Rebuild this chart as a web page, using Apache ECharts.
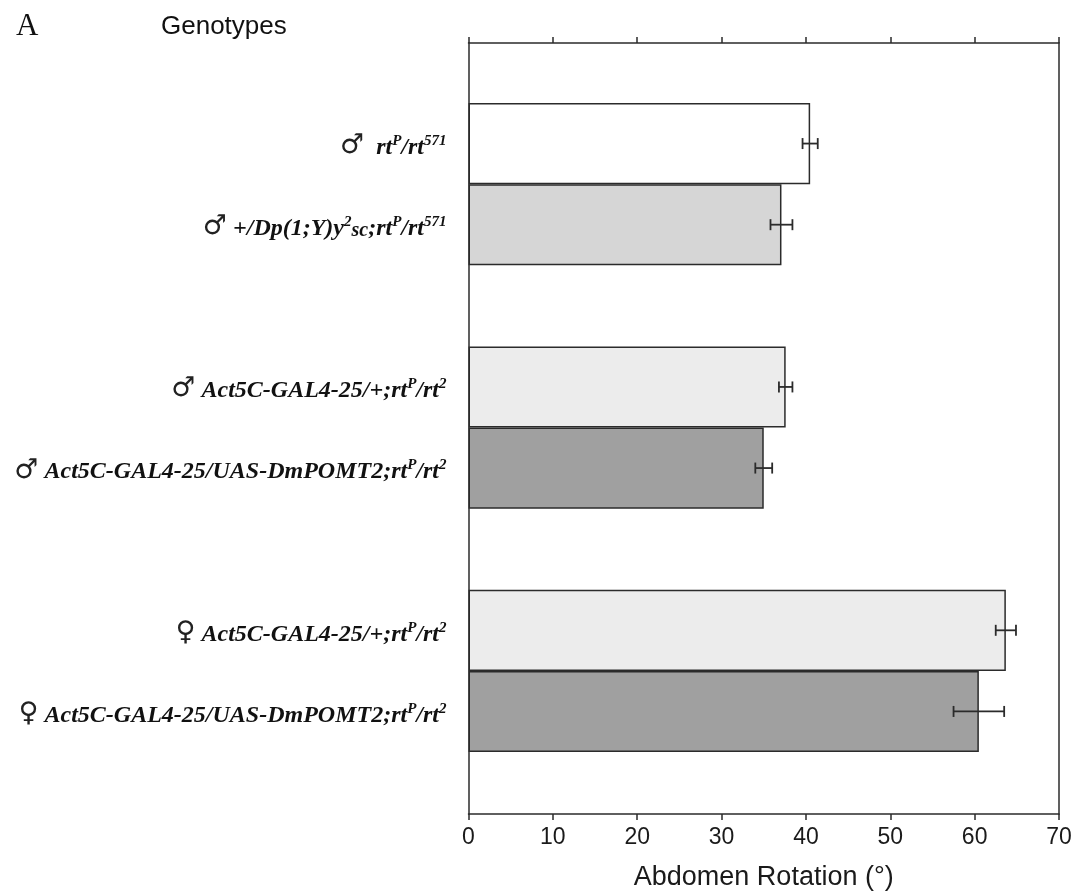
<!DOCTYPE html>
<html>
<head>
<meta charset="utf-8">
<script src="https://cdn.jsdelivr.net/npm/echarts@6/dist/echarts.min.js"></script>
<style>
  html, body { margin: 0; padding: 0; background: #fff; }
  #chart { width: 1077px; height: 892px; }
</style>
</head>
<body>
<div id="chart"></div>
<script>
// Genotype labels (rich-text markup: sex symbol, bold-italic genotype, superscript alleles)
const genotypes = [
  '{sym|♂}{g|  rt}{sup|P}{g|/rt}{sup|571}',
  '{sym|♂}{g| +/Dp(1;Y)y}{sup|2}{sc|sc}{g|;rt}{sup|P}{g|/rt}{sup|571}',
  '{sym|♂}{g| Act5C-GAL4-25/+;rt}{sup|P}{g|/rt}{sup|2}',
  '{sym|♂}{g| Act5C-GAL4-25/UAS-DmPOMT2;rt}{sup|P}{g|/rt}{sup|2}',
  '{sym|♀}{g| Act5C-GAL4-25/+;rt}{sup|P}{g|/rt}{sup|2}',
  '{sym|♀}{g| Act5C-GAL4-25/UAS-DmPOMT2;rt}{sup|P}{g|/rt}{sup|2}'
];
// Mean abdomen rotation (degrees) and error (±)
const rotation = [40.5, 37.1, 37.6, 35.0, 63.7, 60.5];
const rotationErr = [0.9, 1.3, 0.8, 1.0, 1.2, 3.0];
// Bars are shown in pairs; an empty row separates the pairs
const pairSize = 2;
const xTicks = [0, 10, 20, 30, 40, 50, 60, 70];

const fills = ['#ffffff', '#d6d6d6', '#ececec', '#a0a0a0', '#ececec', '#a0a0a0'];
const ink = '#2b2b2b';

// Build row slots (with blank separator rows between pairs)
const rowLabels = [];
const rowBars = [];
const rowErr = [];
genotypes.forEach((g, i) => {
  if (i > 0 && i % pairSize === 0) {
    rowLabels.push('');
    rowBars.push(null);
  }
  const row = rowLabels.length;
  rowLabels.push(g);
  rowBars.push({ value: rotation[i], itemStyle: { color: fills[i] } });
  rowErr.push([row, rotation[i], rotationErr[i]]);
});

const chart = echarts.init(document.getElementById('chart'), null, { renderer: 'canvas' });

const sans = 'Liberation Sans, Arial, sans-serif';
const serif = 'Liberation Serif, Times New Roman, serif';
const frameLine = { show: true, onZero: false, lineStyle: { color: ink, width: 1.5 } };

chart.setOption({
  animation: false,
  backgroundColor: '#fff',
  title: [
    { text: 'A', left: 11, top: 6, textStyle: { fontFamily: serif, fontWeight: 'normal', fontSize: 31, color: '#111' } },
    { text: 'Genotypes', left: 156, top: 9, textStyle: { fontFamily: sans, fontWeight: 'normal', fontSize: 26, color: '#111' } }
  ],
  grid: [
    { left: 468.5, right: 18, top: 43, bottom: 78, containLabel: false, outerBoundsMode: 'none' },
    { left: 468.5, right: 18, top: 103, height: 649, containLabel: false, outerBoundsMode: 'none' }
  ],
  xAxis: [
    {
      gridIndex: 0, type: 'value', position: 'bottom',
      min: xTicks[0], max: xTicks[xTicks.length - 1], interval: 10,
      axisLine: frameLine,
      axisTick: { show: true, inside: false, length: 6, lineStyle: { color: ink, width: 1.5 } },
      axisLabel: { margin: 12, fontFamily: sans, fontSize: 23, color: '#1a1a1a' },
      splitLine: { show: false },
      name: 'Abdomen Rotation (°)', nameLocation: 'middle', nameGap: 50,
      nameTextStyle: { fontFamily: sans, fontSize: 27, color: '#1a1a1a' }
    },
    {
      gridIndex: 0, type: 'value', position: 'top',
      min: xTicks[0], max: xTicks[xTicks.length - 1], interval: 10,
      axisLine: frameLine,
      axisTick: { show: true, inside: false, length: 6, lineStyle: { color: ink, width: 1.5 } },
      axisLabel: { show: false },
      splitLine: { show: false }
    },
    {
      gridIndex: 1, type: 'value', min: xTicks[0], max: xTicks[xTicks.length - 1], show: false
    }
  ],
  yAxis: [
    {
      gridIndex: 0, type: 'value', position: 'left', min: 0, max: 1,
      axisLine: frameLine,
      axisTick: { show: false }, axisLabel: { show: false }, splitLine: { show: false }
    },
    {
      gridIndex: 0, type: 'value', position: 'right', min: 0, max: 1,
      axisLine: frameLine,
      axisTick: { show: false }, axisLabel: { show: false }, splitLine: { show: false }
    },
    {
      gridIndex: 1, type: 'category', inverse: true, data: rowLabels,
      axisLine: { show: false }, axisTick: { show: false }, splitLine: { show: false },
      axisLabel: {
        margin: 22,
        interval: 0,
        rich: {
          sym: { fontFamily: 'DejaVu Sans, sans-serif', fontSize: 27, color: '#222', lineHeight: 32, verticalAlign: 'bottom' },
          g: { fontFamily: serif, fontStyle: 'italic', fontWeight: 'bold', fontSize: 24, color: '#111', lineHeight: 32, verticalAlign: 'bottom' },
          sc: { fontFamily: serif, fontStyle: 'italic', fontWeight: 'bold', fontSize: 20, color: '#111', lineHeight: 32, verticalAlign: 'bottom' },
          sup: { fontFamily: serif, fontStyle: 'italic', fontWeight: 'bold', fontSize: 15, color: '#111', lineHeight: 32, verticalAlign: 'bottom', padding: [0, 0, 11, 0] }
        }
      }
    }
  ],
  series: [
    {
      type: 'bar',
      xAxisIndex: 2, yAxisIndex: 2,
      data: rowBars,
      barCategoryGap: '0%',
      barWidth: '100%',
      itemStyle: { borderColor: ink, borderWidth: 1.5 },
      silent: true
    },
    {
      type: 'custom',
      xAxisIndex: 2, yAxisIndex: 2,
      data: rowErr,
      encode: { y: 0, x: 1 },
      renderItem: function (params, api) {
        const row = api.value(0);
        const v = api.value(1);
        const e = api.value(2);
        const lo = api.coord([v - e, row]);
        const hi = api.coord([v + e, row]);
        const cap = 5.5;
        const style = { stroke: ink, lineWidth: 1.8 };
        return {
          type: 'group',
          children: [
            { type: 'line', shape: { x1: lo[0], y1: lo[1], x2: hi[0], y2: hi[1] }, style: style },
            { type: 'line', shape: { x1: lo[0], y1: lo[1] - cap, x2: lo[0], y2: lo[1] + cap }, style: style },
            { type: 'line', shape: { x1: hi[0], y1: hi[1] - cap, x2: hi[0], y2: hi[1] + cap }, style: style }
          ]
        };
      },
      z: 5,
      silent: true
    }
  ]
});
</script>
</body>
</html>
